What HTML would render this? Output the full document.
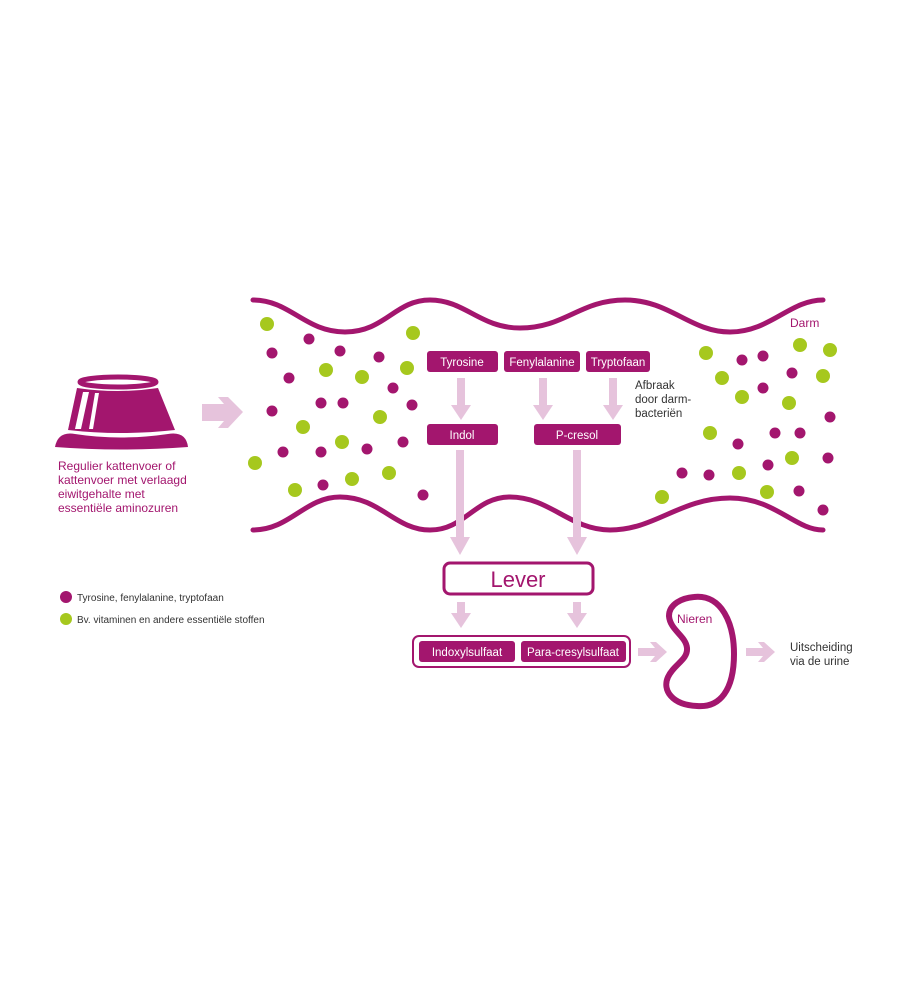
<!DOCTYPE html>
<html><head><meta charset="utf-8"><style>
html,body{margin:0;padding:0;background:#fff;}
svg{display:block;font-family:"Liberation Sans","DejaVu Sans",sans-serif;}
</style></head><body>
<svg width="923" height="1000" viewBox="0 0 923 1000" xmlns="http://www.w3.org/2000/svg">
<!-- bowl -->
<ellipse cx="118" cy="382" rx="38" ry="5" fill="none" stroke="#a3166e" stroke-width="5"/>
<path d="M77,388 Q118,394 158,388 L175,430 Q120,436 68,430 Z" fill="#a3166e"/>
<path d="M83,392 L89,392 L81,429 L75,429 Z" fill="#fff"/>
<path d="M95,393 L99,393 L93,429 L89,429 Z" fill="#fff"/>
<path d="M55,447 Q58,431 75,434 Q120,441 168,434 Q186,431 188,447 Q121,452 55,447 Z" fill="#a3166e"/>
<!-- big arrow -->
<path d="M202,404 L224,404 L218,397 L228,397 L243,412 L228,428 L218,428 L224,421 L202,421 Z" fill="#e6c3dc"/>
<g font-size="12" fill="#a3166e">
<text x="58" y="470">Regulier kattenvoer of</text>
<text x="58" y="484">kattenvoer met verlaagd</text>
<text x="58" y="498">eiwitgehalte met</text>
<text x="58" y="512">essentiële aminozuren</text>
</g>
<!-- intestine walls -->
<path d="M253,300 C290,300 305,332 345,332 C385,332 395,300 430,300 C465,300 480,328 520,328 C565,328 580,300 625,300 C670,300 690,332 730,332 C770,332 790,300 823,300" fill="none" stroke="#a3166e" stroke-width="5" stroke-linecap="round"/>
<path d="M253,530 C290,530 305,497 340,497 C380,497 395,530 430,530 C465,530 475,497 510,497 C550,497 570,530 610,530 C655,530 680,498 730,498 C775,498 795,530 823,530" fill="none" stroke="#a3166e" stroke-width="5" stroke-linecap="round"/>
<text x="790" y="327" font-size="12" fill="#a3166e">Darm</text>
<!-- dots -->
<g fill="#a6c81e">
<circle cx="267" cy="324" r="7"/><circle cx="413" cy="333" r="7"/><circle cx="326" cy="370" r="7"/><circle cx="362" cy="377" r="7"/><circle cx="407" cy="368" r="7"/><circle cx="303" cy="427" r="7"/><circle cx="380" cy="417" r="7"/><circle cx="342" cy="442" r="7"/><circle cx="255" cy="463" r="7"/><circle cx="295" cy="490" r="7"/><circle cx="352" cy="479" r="7"/><circle cx="389" cy="473" r="7"/>
<circle cx="706" cy="353" r="7"/><circle cx="800" cy="345" r="7"/><circle cx="830" cy="350" r="7"/><circle cx="722" cy="378" r="7"/><circle cx="823" cy="376" r="7"/><circle cx="742" cy="397" r="7"/><circle cx="789" cy="403" r="7"/><circle cx="710" cy="433" r="7"/><circle cx="792" cy="458" r="7"/><circle cx="739" cy="473" r="7"/><circle cx="767" cy="492" r="7"/><circle cx="662" cy="497" r="7"/>
<circle cx="66" cy="619" r="6"/>
</g>
<g fill="#a3166e">
<circle cx="309" cy="339" r="5.5"/><circle cx="272" cy="353" r="5.5"/><circle cx="340" cy="351" r="5.5"/><circle cx="379" cy="357" r="5.5"/><circle cx="289" cy="378" r="5.5"/><circle cx="393" cy="388" r="5.5"/><circle cx="321" cy="403" r="5.5"/><circle cx="343" cy="403" r="5.5"/><circle cx="412" cy="405" r="5.5"/><circle cx="272" cy="411" r="5.5"/><circle cx="403" cy="442" r="5.5"/><circle cx="283" cy="452" r="5.5"/><circle cx="321" cy="452" r="5.5"/><circle cx="367" cy="449" r="5.5"/><circle cx="323" cy="485" r="5.5"/><circle cx="423" cy="495" r="5.5"/>
<circle cx="742" cy="360" r="5.5"/><circle cx="763" cy="356" r="5.5"/><circle cx="792" cy="373" r="5.5"/><circle cx="763" cy="388" r="5.5"/><circle cx="830" cy="417" r="5.5"/><circle cx="775" cy="433" r="5.5"/><circle cx="800" cy="433" r="5.5"/><circle cx="738" cy="444" r="5.5"/><circle cx="768" cy="465" r="5.5"/><circle cx="828" cy="458" r="5.5"/><circle cx="682" cy="473" r="5.5"/><circle cx="709" cy="475" r="5.5"/><circle cx="799" cy="491" r="5.5"/><circle cx="823" cy="510" r="5.5"/>
<circle cx="66" cy="597" r="6"/>
</g>
<g font-size="10" fill="#333">
<text x="77" y="601">Tyrosine, fenylalanine, tryptofaan</text>
<text x="77" y="623">Bv. vitaminen en andere essentiële stoffen</text>
</g>
<!-- arrows (light pink) -->
<g fill="#e6c3dc">
<rect x="457" y="378" width="8" height="32"/><path d="M451,405 L471,405 L461,420 Z"/>
<rect x="539" y="378" width="8" height="32"/><path d="M533,405 L553,405 L543,420 Z"/>
<rect x="609" y="378" width="8" height="32"/><path d="M603,405 L623,405 L613,420 Z"/>
<rect x="456" y="450" width="8" height="92"/><path d="M450,537 L470,537 L460,555 Z"/>
<rect x="573" y="450" width="8" height="92"/><path d="M567,537 L587,537 L577,555 Z"/>
<rect x="457" y="602" width="8" height="16"/><path d="M451,613 L471,613 L461,628 Z"/>
<rect x="573" y="602" width="8" height="16"/><path d="M567,613 L587,613 L577,628 Z"/>
<path d="M638,648 L655,648 L650,642 L656,642 L667,652 L656,662 L650,662 L655,656 L638,656 Z"/>
<path d="M746,648 L763,648 L758,642 L764,642 L775,652 L764,662 L758,662 L763,656 L746,656 Z"/>
</g>
<!-- boxes -->
<g fill="#a3166e">
<rect x="427" y="351" width="71" height="21" rx="3"/>
<rect x="504" y="351" width="76" height="21" rx="3"/>
<rect x="586" y="351" width="64" height="21" rx="3"/>
<rect x="427" y="424" width="71" height="21" rx="3"/>
<rect x="534" y="424" width="87" height="21" rx="3"/>
<rect x="419" y="641" width="96" height="21" rx="3"/>
<rect x="521" y="641" width="105" height="21" rx="3"/>
</g>
<g font-size="11.5" fill="#fff" text-anchor="middle">
<text x="462" y="366">Tyrosine</text>
<text x="542" y="366">Fenylalanine</text>
<text x="618" y="366">Tryptofaan</text>
<text x="462" y="439">Indol</text>
<text x="577" y="439">P-cresol</text>
<text x="467" y="656">Indoxylsulfaat</text>
<text x="573" y="656">Para-cresylsulfaat</text>
</g>
<g font-size="11.5" fill="#333">
<text x="635" y="389">Afbraak</text>
<text x="635" y="403">door darm-</text>
<text x="635" y="417">bacteriën</text>
<text x="790" y="651">Uitscheiding</text>
<text x="790" y="665">via de urine</text>
</g>
<rect x="444" y="563" width="149" height="31" rx="6" fill="#fff" stroke="#a3166e" stroke-width="3"/>
<text x="518" y="587" font-size="22" fill="#a3166e" text-anchor="middle">Lever</text>
<rect x="413" y="636" width="217" height="31" rx="6" fill="none" stroke="#a3166e" stroke-width="2"/>
<!-- kidney -->
<path d="M694,597 C722,594 734,624 734,654 C734,690 720,708 697,706 C672,705 662,690 668,677 C674,664 688,660 687,648 C686,636 670,630 669,616 C669,604 682,598 694,597 Z" fill="none" stroke="#a3166e" stroke-width="6"/>
<text x="677" y="623" font-size="12" fill="#a3166e">Nieren</text>
</svg>
</body></html>
